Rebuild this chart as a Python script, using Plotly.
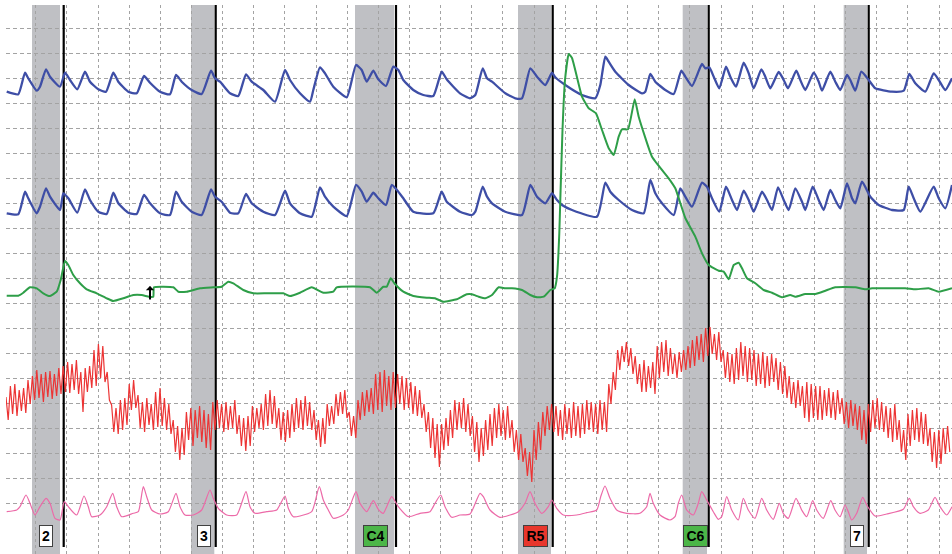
import plotly.graph_objects as go

# ---------------- data (x in sample units along the chart, y in trace units, top = small) -------------
upper_pneumo_t = [6.7,18.3,25,28.3,36.7,40,46,50,60,65,70,77.3,85,90,98.3,106,113.3,118.3,128.3,136.7,144,150,160,170,176,181.7,191.7,201.7,211,215,220,230,238.3,246,251.7,263.3,275,285,290,300,310,313.3,320,325,333.3,346.7,356,361.7,366.7,373.3,378.3,386,393.3,398.3,403.3,413.3,423.3,433.3,441.7,446.7,460,470,
                  475.3,482.7,487,492,505.3,515.3,522,530.3,537,545.3,552,555.3,565.3,582,595.3,600.3,605.3,608.7,615.3,628.7,642,645.3,650.3,655.3,665.3,673.7,681.3,685.3,692,702,705.3,709.3,713.7,719.3,726,730.3,736,743.7,748.7,753.7,761.3,765.3,770.3,778.7,783.7,788,796.3,800.3,805.3,813.7,818.7,822,830.3,835.3,840.3,847,850.3,855.3,861.3,868.7,875.3,892,903.7,909.3,915.3,925.3,933.7,938.7,945.3,952]
upper_pneumo_v = [91.7,94.3,72.7,78.3,90.7,86.7,69.3,76.7,86.7,72.7,80,89.3,71.7,81.7,89.3,91.7,72.7,81.7,91.7,93.3,76,82.7,91.7,94.3,75,81.7,90,94,70.7,78.3,81.7,93.3,96,74.3,81.7,90,101.7,70,80,93.3,101.7,90,67.3,73.3,86.7,97.3,65,70,81.7,70.7,79.3,86,66.7,70,80,90,95,96,71.7,79.3,93.3,98.3,
                  95,68.3,78.3,81.7,93.3,98.3,98.3,68.3,76.7,85,72.7,77.3,85,95,98.3,85,56.7,61.7,71.7,85,93.3,91.7,74,81.7,90,94,70.7,76.7,86,64,68.3,67.3,76.7,88.3,66.7,76.7,86.7,62.7,73.3,88.3,69.3,76.7,88.3,72,80,88.3,70.7,80,90,72.7,81.7,90.7,71.7,81.7,90,75,80,90.7,71.7,80,88.3,91.7,90.7,74,83.3,91.7,73.3,80,90,78.3]

lower_pneumo_t = [6.7,18.3,25,28.3,36.7,40,46,50,60,63.3,68.3,77.3,85,90,98.3,106.7,113.3,118.3,128.3,136.7,144,150,160,170,176,181.7,191.7,201.7,211,215,221.7,230,238.3,246,251.7,263.3,275,285,290,300,311.7,320,325,333.3,346.7,356,361.7,366.7,373.3,378.3,386,391.7,398.3,403.3,413.3,433.3,441.7,446.7,460,
                  472,475.3,482.7,487,492,505.3,522,530.3,537,545.3,552,557,562,572,597,605.3,610.3,618.7,632,643.7,650.3,655.3,662,673.7,680.3,685.3,692,702,707,712,719.3,726,732,737,743.7,748.7,753.7,762,767,772,778,783.7,788.7,795.3,802,805.3,812.7,818.7,823.7,830.3,835.3,840.3,847,852,855.3,862,870.3,878.7,892,903.7,908.7,913.7,920.3,933.7,938.7,945.3,952]
lower_pneumo_v = [213.3,214.3,191.7,198.3,213.3,206.7,188.3,196.7,210,193.3,198.3,212.7,189.3,200,211.7,214,192.7,203.3,212.7,214,195,203.3,213.3,215,191.7,201.7,211.7,215,189.3,196.7,201.7,212.7,213.3,194,203.3,211.7,215,190.7,203.3,213.3,216.7,187.3,196.7,206.7,216,185,191.7,201.7,192.7,198.3,205,185,191.7,198.3,211.7,213.3,191.7,201.7,211.7,
                  215,211.7,186.7,196.7,203.3,211.7,215,185,196.7,203.3,193.3,200,205,210,216.7,182.7,191.7,200,210,213.3,180,193.3,203.3,215,188.3,196.7,206.7,182.7,186.7,198.3,211.7,186.7,200,210,190.7,200,211.7,191.7,200,210,187.3,200,210,188.3,201.7,210,186.7,200,210,190,200,208.3,183.3,198.3,203.3,181.7,196.7,205,210,210,186.7,198.3,211.7,186.7,198.3,208.3,185]

eda_t = [6.7,18.3,23.3,30,36.7,43.3,50,56.7,60.7,65,68.3,73.3,80,86.7,96.7,106.7,113.3,123.3,133.3,141.7,149,153.3,154,173.3,178.3,186.7,200,213.3,221.7,228.3,233.3,243.3,253.3,266.7,283.3,290,300,311.7,323.3,333.3,336.7,370,376.7,383.3,386.7,390.7,395,403.3,413.3,426.7,435,443.3,456.7,466.7,
         472,478.7,485.3,492,498.7,505.3,512,522,530.3,537,543.7,550.3,554.7,557,559.3,560.3,562.5,565,568.7,572,582,588.7,596,602,608.7,613.7,618.7,622,628,634.7,638.7,652,668.7,675.3,685.3,695.3,702,708.7,718.7,723.7,728.7,733.7,738.7,742,747,755.3,763.7,772,782,790.3,795.3,805.3,815.3,825.3,835.3,855.3,865.3,872,905.3,915.3,928.7,938.7,952]
eda_v = [295.7,295.7,292.7,287.3,288.3,293.3,296,291.7,280,261,265,275,283.3,289.3,293.3,298.3,301,298.3,295,295,296.7,296.7,287.3,287.3,291.7,291.7,288.3,287.3,286.7,281.7,283.3,290,293.3,293.3,293.3,296,292.7,287.3,292.7,291.7,287.3,287.3,292.7,286.7,286.7,278.3,284,291.7,296,297.7,298.3,301.7,299.3,294.3,
         294.3,296.7,298.3,295,287.3,288.3,288.3,290,295,297.3,296.7,290,288.3,276.7,233.3,200,130,80,54,58,96.7,108.3,113.3,130,148.3,155,136.7,129.3,129.3,99.3,116.7,156.7,178.3,188.3,218,236.7,253.3,265,270.7,271.7,279.3,265,262.7,268.3,278.3,283.3,290,292.7,297.3,295,296.7,294,294,290.7,287.3,287.3,289.3,288.3,288.3,289.3,288.3,291.7,288.3]

# cardio: one peak and one trough per pulse, pulses every 4.4 units from t=6
cardio_t0 = 6.0
cardio_period = 4.4
cardio_peak = [397,386,384,390,388, 380,376,370,374,372, 371,374,368,366,362, 364,360,372,368,366, 350,344,346,372,405,
               408,400,398,384,380, 395,402,398,404,392, 388,398,404,420,426, 428,412,408,410,406, 410,414,402,400,404,
               402,406,400,415,418, 416,406,408,404,394, 390,396,408,412,410, 404,398,400,396,402, 410,420,418,404,406,
               394,392,390,412,416, 400,392,390,388,374, 372,370,376,372,374, 376,378,382,386,390, 404,412,418,424,424,
               418,410,400,402,398, 404,416,422,428,420, 414,408,404,410,406, 420,430,434,448,452, 430,422,412,406,404,
               406,410,404,408,402, 406,404,400,402,404, 400,402,384,372,350, 346,342,348,356,364, 360,366,362,346,342,
               340,348,354,352,350, 346,340,336,334,328, 327,334,332,350,352, 354,348,342,346,348, 350,354,352,356,354,
               358,362,366,376,382, 380,386,382,384,386, 386,390,388,392,390, 398,402,400,404,406, 410,404,400,398,402,
               406,408,404,420,430, 414,410,408,412,414, 428,432,430,428,426]
cardio_trough = [420,414,416,411,413, 404,400,398,402,397, 399,396,394,392,393, 390,394,412,392,388, 386,378,382,400,432,
                 434,430,425,410,408, 428,432,425,430,427, 426,430,434,452,460, 455,440,446,438,442, 448,450,430,428,432,
                 430,428,434,446,451, 446,432,428,430,426, 424,428,440,442,438, 432,428,430,426,430, 440,447,444,426,424,
                 416,414,418,436,438, 420,416,412,414,410, 412,406,410,408,404, 410,408,414,416,418, 432,448,458,467,450,
                 446,438,430,428,432, 436,452,462,456,450, 446,438,436,440,438, 452,460,462,476,482, 460,450,436,430,432,
                 436,440,434,438,436, 438,434,430,432,434, 430,432,404,390,370, 362,366,374,384,392, 392,388,394,378,372,
                 376,374,378,372,370, 368,366,360,362,356, 354,360,362,378,382, 384,380,376,382,380, 386,384,388,386,382,
                 390,394,398,404,408, 406,418,422,418,420, 420,416,418,420,414, 424,428,426,430,440, 444,432,428,430,432,
                 438,442,440,452,460, 446,440,442,444,446, 462,468,464,454,452]

pleth_t = [6.7,16.7,20,26,30,35,40,46,50,55,60,64.3,68.3,76.7,84,88.3,91.7,100,106.7,112.7,116.7,121.7,133.3,138.3,143.3,146.7,151.7,160,168.3,176,180,185,193.3,201.7,210,213.3,218.3,226.7,236.7,246,250,255,266.7,276.7,285,288.3,293.3,300,311.7,319.3,323.3,328.3,333.3,343.3,348.3,356,360,366.7,373.3,378.3,383.3,386.7,391.7,398.3,408.3,420,430,435,440.7,445,451.7,460,470,
           480,483.3,490,500,510,518.3,525,530,535,541.7,548.3,551.7,556.7,563.3,576.7,586.7,596.7,600.7,605,610,616.7,626.7,640,646.7,650,653.3,660,670,675,678.3,681.7,686.7,693.3,698.3,701.7,706.7,713.3,718.3,721.7,726.7,731.7,738.3,743.3,748.3,755,761.7,766.7,773.3,779.3,783.3,788.3,796,801.7,806.7,812.7,816.7,823.3,830.7,835,840,845,848.3,851.7,856.7,862.7,866.7,875,886.7,903.3,909.3,913.3,920,928.3,935,940,946.7,952]
pleth_v = [511.7,510,506.7,495,503.3,515,506.7,498.3,503.3,518.3,520,501.7,506.7,515,496,506.7,516.7,515,506.7,493.3,506.7,516.7,513.3,511.7,486.7,496.7,510,514,511.7,493.3,506.7,515,515,510,490,498.3,508.3,515,515,491.7,506.7,513.3,511.7,510,496,508.3,516.7,516,511.7,486.7,500,510,518.3,515,510,491.7,503.3,511.7,500.7,509.3,513.3,506.7,496.7,506.7,516.7,513.3,511.7,503.3,495,506.7,517.3,515,514,
           493.3,496.7,510,517.3,515,511.7,503.3,491.7,503.3,513.3,506.7,500,508.3,515,515,512.7,510,496.7,486,498.3,510,513.3,513.3,506.7,493.3,503.3,515,520,516.7,503.3,495,510,515,503.3,491.7,500,511.7,519.3,516.7,496.7,510,520,498.3,510,518.3,498.3,510,519.3,503.3,513.3,518.3,498.3,510,516.7,500.7,510,518.3,500.7,510,516.7,505,511.7,520,513.3,497.3,505,516,514,509.3,498.3,506.7,513.3,510,497.3,506.7,515,506.7]

# question periods (shaded), question onset marks and labels
band_start = [32, 191, 355, 518, 682.7, 843.7]
band_end = [60, 214.3, 394, 551, 707, 867]
mark_t = [63.7, 215.7, 396, 552.7, 708.7, 868.7]
question_labels = ["2", "3", "C4", "R5", "C6", "7"]
label_t = [46, 203.5, 375, 535.5, 695.5, 856.5]
label_kind = ["n", "n", "c", "r", "c", "n"]

# ---------------- figure -------------
BLUE = "#3e4ea6"
GREEN = "#2e9e48"
RED = "#ec3434"
PINK = "#ec6aa8"
GREY_BAND = "#bfc0c4"

fig = go.Figure()

fig.add_trace(go.Scatter(x=upper_pneumo_t, y=upper_pneumo_v, mode="lines",
                         line=dict(color=BLUE, width=2.3, shape="spline", smoothing=0.5), hoverinfo="skip"))
fig.add_trace(go.Scatter(x=lower_pneumo_t, y=lower_pneumo_v, mode="lines",
                         line=dict(color=BLUE, width=2.3, shape="spline", smoothing=0.5), hoverinfo="skip"))

n = min(len(cardio_peak), len(cardio_trough))
cx, cy = [], []
for k in range(n):
    cx.append(cardio_t0 + cardio_period * k)
    cy.append(cardio_peak[k])
    cx.append(cardio_t0 + cardio_period * k + cardio_period / 2)
    cy.append(cardio_trough[k])
fig.add_trace(go.Scatter(x=cx, y=cy, mode="lines",
                         line=dict(color=RED, width=1.2), hoverinfo="skip"))

fig.add_trace(go.Scatter(x=pleth_t, y=pleth_v, mode="lines",
                         line=dict(color=PINK, width=1.2, shape="spline", smoothing=0.6), hoverinfo="skip"))
fig.add_trace(go.Scatter(x=eda_t, y=eda_v, mode="lines",
                         line=dict(color=GREEN, width=2.0, shape="spline", smoothing=0.4), hoverinfo="skip"))

shapes = []
for a, b in zip(band_start, band_end):
    shapes.append(dict(type="rect", xref="x", yref="paper", x0=a, x1=b, y0=0, y1=1,
                       fillcolor=GREY_BAND, line=dict(width=0), layer="below"))
for m in mark_t:
    shapes.append(dict(type="line", xref="x", yref="y", x0=m, x1=m, y0=5, y1=547,
                       line=dict(color="black", width=2.2), layer="between"))
fig.update_layout(shapes=shapes)

fills = {"n": "white", "c": "#4cb648", "r": "#e8362c"}
for lab, t, kind in zip(question_labels, label_t, label_kind):
    w = 12 if len(lab) == 1 else 23
    fig.add_annotation(x=t, y=536, xref="x", yref="y", text="<b>%s</b>" % lab,
                       showarrow=False, width=w, height=20, bgcolor=fills[kind],
                       bordercolor="#404040", borderwidth=1, borderpad=0,
                       font=dict(family="Liberation Sans, Arial", size=14, color="black"),
                       xanchor="center", yanchor="middle")

# small artifact marker on the EDA channel
fig.add_annotation(x=150, y=286, ax=150, ay=301, xref="x", yref="y", axref="x", ayref="y",
                   text="", showarrow=True, arrowhead=1, arrowsize=0.7, arrowwidth=2,
                   arrowcolor="black", standoff=0)

xgrid = [35.7 + 31.15 * k for k in range(30)]
ygrid = [28 + 25 * k for k in range(20)]

fig.update_layout(
    width=952, height=554,
    margin=dict(l=6, r=0, t=5, b=0),
    paper_bgcolor="white", plot_bgcolor="white",
    showlegend=False,
    xaxis=dict(range=[6, 952], tickvals=xgrid, showticklabels=False, ticks="",
               showgrid=True, gridcolor="#a3a3a3", gridwidth=1, griddash="3px,3px",
               zeroline=False, showline=False, fixedrange=True),
    yaxis=dict(range=[554, 5], tickvals=ygrid, showticklabels=False, ticks="",
               showgrid=True, gridcolor="#a3a3a3", gridwidth=1, griddash="4px,3px",
               zeroline=False, showline=False, fixedrange=True),
)

fig.write_html("out.html")
